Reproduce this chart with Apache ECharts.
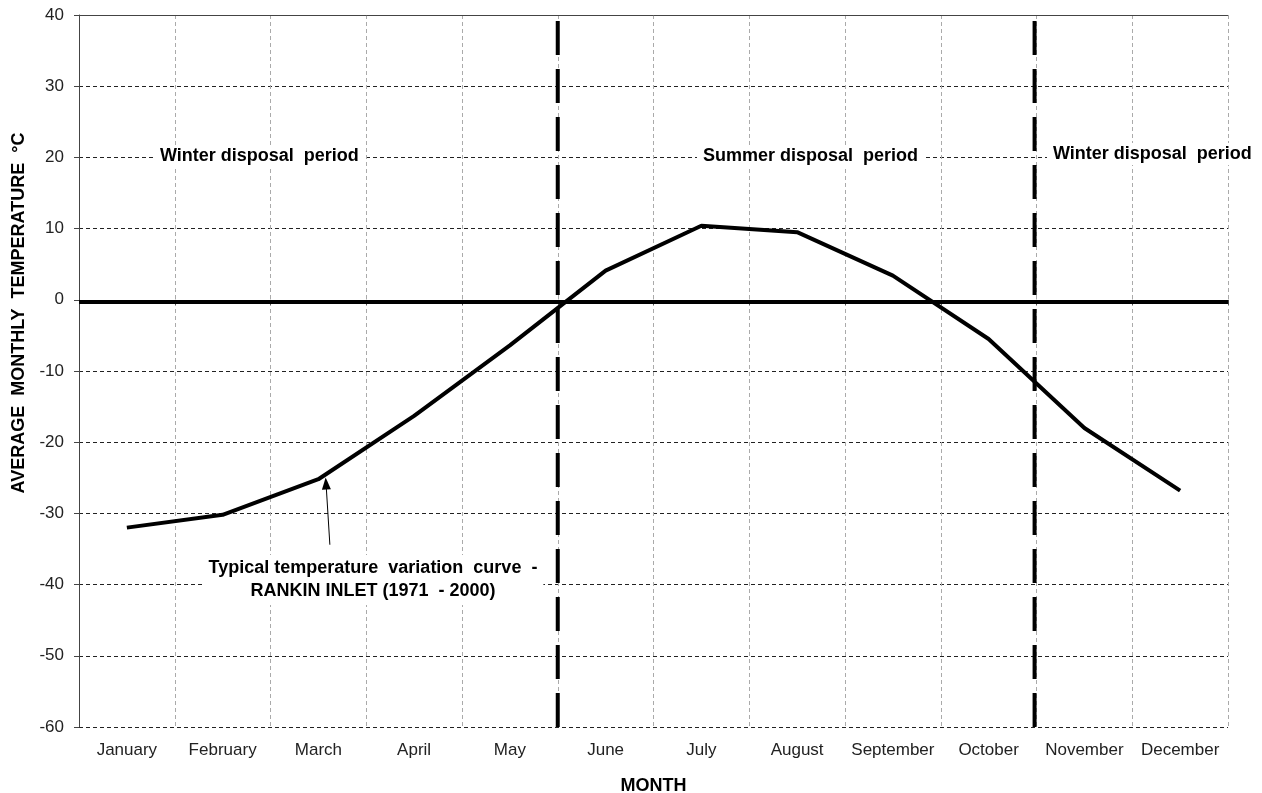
<!DOCTYPE html>
<html>
<head>
<meta charset="utf-8">
<title>Average monthly temperature - Rankin Inlet</title>
<script src="https://cdn.jsdelivr.net/npm/echarts@6/dist/echarts.min.js"></script>
<style>
  html, body { margin: 0; padding: 0; background: #fff; }
  #chart { width: 1262px; height: 793px; }
</style>
</head>
<body>
<div id="chart"></div>
<script>
  // months on the x axis
  var months = ['January', 'February', 'March', 'April', 'May', 'June',
    'July', 'August', 'September', 'October', 'November', 'December'];
  // average monthly temperature, Rankin Inlet 1971-2000
  var temps = [-32.0, -30.2, -25.2, -16.3, -6.4, 4.1, 10.4, 9.5, 3.4, -5.5, -18.0, -26.8];
  // y axis range
  var yMin = -60, yMax = 40, yStep = 10;
  // disposal period boundaries, in months from start of year
  var periodBoundaries = [5, 9.98];
  // arrow from label to the curve (month position, temperature)
  var arrowFrom = [2.62, -34.4];
  var arrowTo = [2.58, -25.8];

  var chart = echarts.init(document.getElementById('chart'));
  var font = 'Liberation Sans, Arial, sans-serif';

  var boundarySeries = periodBoundaries.map(function (b) {
    return {
      type: 'line',
      xAxisIndex: 1,
      data: [[b, yMin], [b, yMax]],
      symbol: 'none',
      silent: true,
      z: 4,
      lineStyle: { color: '#000', width: 4, type: [34, 14] }
    };
  });

  chart.setOption({
    animation: false,
    backgroundColor: '#fff',
    grid: { left: 79, right: 34, top: 15, bottom: 66, containLabel: false, outerBoundsMode: 'none' },
    xAxis: [{
      type: 'category',
      data: months,
      boundaryGap: true,
      name: 'MONTH',
      nameLocation: 'middle',
      nameGap: 50,
      nameTextStyle: { fontFamily: font, fontWeight: 'bold', fontSize: 18, color: '#000' },
      axisLine: { lineStyle: { color: '#444', width: 1 } },
      axisTick: { show: true, length: 5, lineStyle: { color: '#444' } },
      axisLabel: { fontFamily: font, fontSize: 17, color: '#222', margin: 15, interval: 0 },
      splitLine: { show: true, lineStyle: { color: '#aaa', type: [4, 3], width: 1 } }
    }, {
      type: 'value',
      min: 0,
      max: 12,
      show: false
    }],
    yAxis: {
      type: 'value',
      min: yMin,
      max: yMax,
      interval: yStep,
      name: 'AVERAGE  MONTHLY  TEMPERATURE  °C',
      nameLocation: 'middle',
      nameGap: 50,
      nameTextStyle: { fontFamily: font, fontWeight: 'bold', fontSize: 18, color: '#000',
        padding: [0, 0, 0, 116] },
      axisLine: { show: true, lineStyle: { color: '#444', width: 1 } },
      axisTick: { show: true, length: 5, lineStyle: { color: '#444' } },
      axisLabel: { fontFamily: font, fontSize: 17, color: '#222', margin: 15 },
      splitLine: { show: true, lineStyle: { color: '#222', type: [4, 3], width: 1 } }
    },
    series: [{
      name: 'Typical temperature variation curve',
      type: 'line',
      data: temps,
      symbol: 'none',
      z: 5,
      lineStyle: { color: '#000', width: 4 },
      markLine: {
        silent: true,
        symbol: 'none',
        label: { show: false },
        data: [
          { yAxis: -0.3, lineStyle: { color: '#000', width: 4, type: 'solid' } },
          { yAxis: yMax, lineStyle: { color: '#444', width: 1, type: 'solid' } }
        ]
      }
    }, {
      type: 'line',
      xAxisIndex: 1,
      data: [],
      silent: true,
      markLine: {
        silent: true,
        symbol: ['none', 'triangle'],
        symbolSize: [9, 12],
        label: { show: false },
        lineStyle: { color: '#000', width: 1, type: 'solid' },
        data: [[{ coord: arrowFrom }, { coord: arrowTo }]]
      }
    }].concat(boundarySeries),
    graphic: [{
      type: 'text', left: 154, top: 145, z: 10,
      style: { text: 'Winter disposal  period', font: 'bold 18px ' + font, fill: '#000',
        backgroundColor: '#fff', padding: [2, 6] }
    }, {
      type: 'text', left: 697, top: 145, z: 10,
      style: { text: 'Summer disposal  period', font: 'bold 18px ' + font, fill: '#000',
        backgroundColor: '#fff', padding: [2, 6] }
    }, {
      type: 'text', left: 1047, top: 143, z: 10,
      style: { text: 'Winter disposal  period', font: 'bold 18px ' + font, fill: '#000',
        backgroundColor: '#fff', padding: [2, 6] }
    }, {
      type: 'text', x: 373, y: 555, z: 10,
      style: { text: 'Typical temperature  variation  curve  -\nRANKIN INLET (1971  - 2000)',
        font: 'bold 18px ' + font, fill: '#000', align: 'center', verticalAlign: 'top',
        lineHeight: 23, backgroundColor: '#fff', padding: [2, 6] }
    }]
  });
</script>
</body>
</html>
